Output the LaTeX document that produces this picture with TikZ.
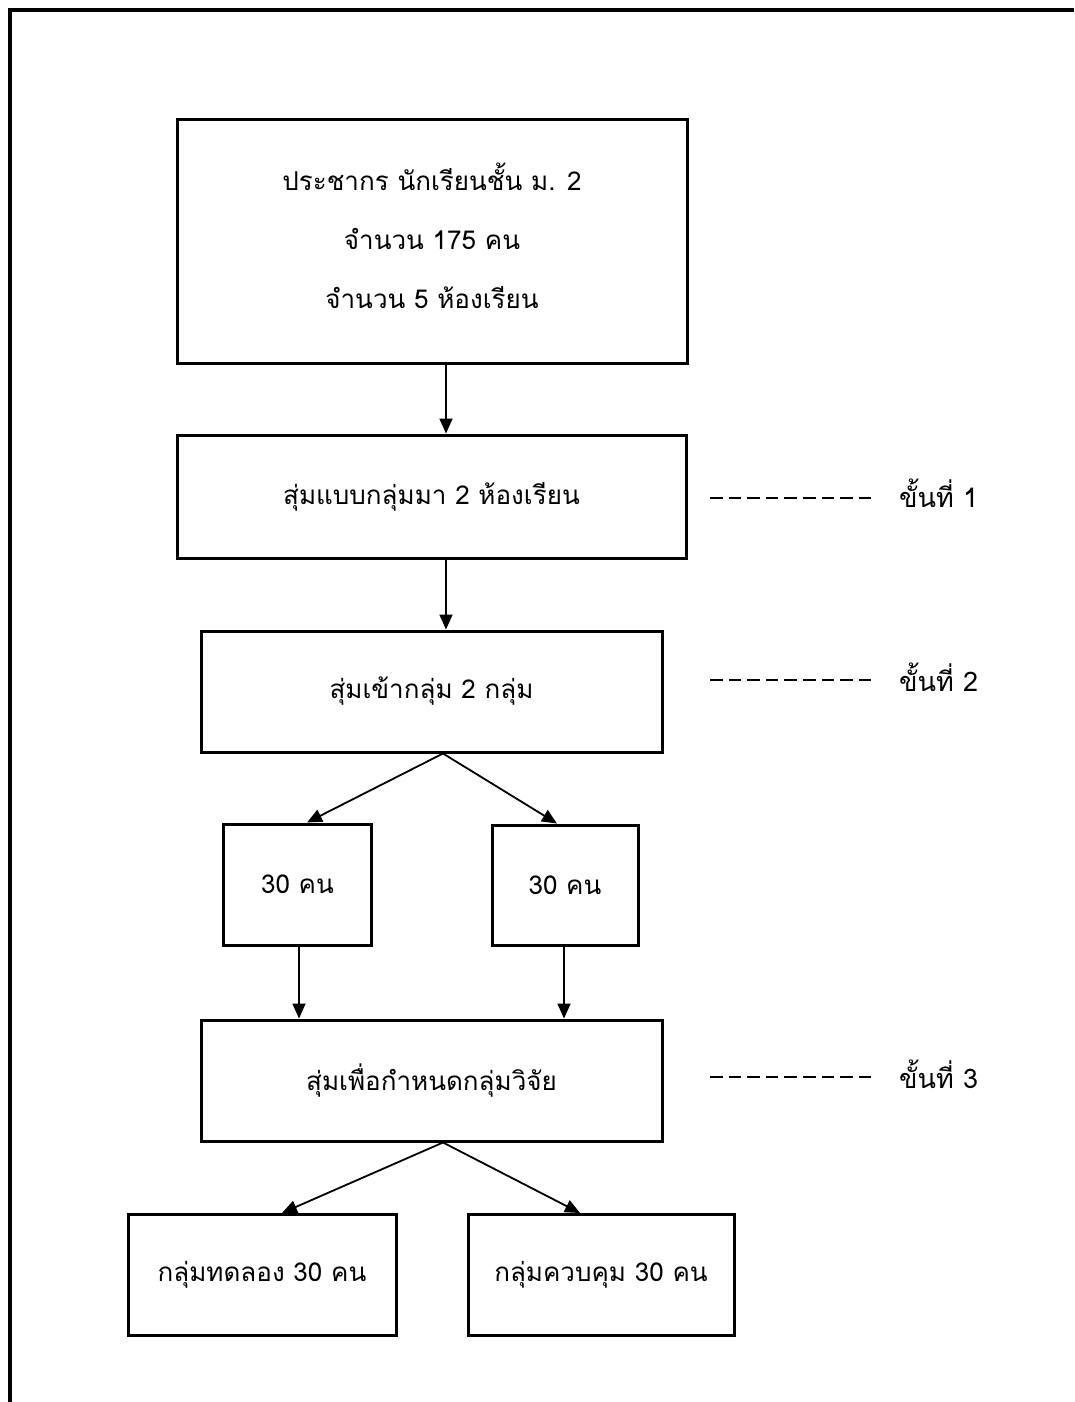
\documentclass[tikz,border=0pt]{standalone}
\usepackage{fontspec}
\newfontfamily\thaifont[Script=Thai]{Loma}
\usetikzlibrary{arrows.meta,calc}
\tikzset{
  box/.style={draw, line width=3pt, rectangle, inner sep=0pt, align=center, font=\thaifont\fontsize{26}{59}\selectfont},
  boxtext/.style={inner sep=0pt, align=center, font=\thaifont\fontsize{26}{59}\selectfont},
  arr/.style={line width=1.8pt, -{Triangle[length=15pt,width=13pt]}},
  dash line/.style={line width=2.8pt, dash pattern=on 12.5pt off 6.1pt},
  steplabel/.style={font=\thaifont\fontsize{27}{30}\selectfont, inner sep=0pt},
}
\begin{document}
\begin{tikzpicture}[x=1pt,y=-1pt]
\useasboundingbox (0,0) rectangle (1074,1402);
\fill[white] (0,0) rectangle (1074,1402);
% frame
\draw[line width=3.5pt] (10,1402) -- (10,10) -- (1074,10);
% boxes
\node[box, minimum width=510pt, minimum height=243pt] (b1) at (432,241.5) {};
\node[boxtext] (b1t) at (432,236) {ประชากร นักเรียนชั้น ม. 2\\จำนวน 175 คน\\จำนวน 5 ห้องเรียน};
\node[box, minimum width=509pt, minimum height=123pt] (b2) at (431.5,496.5) {สุ่มแบบกลุ่มมา 2 ห้องเรียน};
\node[box, minimum width=461pt, minimum height=121pt] (b3) at (431.5,691.5) {สุ่มเข้ากลุ่ม 2 กลุ่ม};
\node[box, minimum width=148pt, minimum height=121pt] (l30) at (297.5,884.5) {30 คน};
\node[box, minimum width=146pt, minimum height=120pt] (r30) at (565,885) {30 คน};
\node[box, minimum width=461pt, minimum height=121pt] (b4) at (431.5,1080.5) {สุ่มเพื่อกำหนดกลุ่มวิจัย};
\node[box, minimum width=268pt, minimum height=121pt] (bl) at (262,1275) {กลุ่มทดลอง 30 คน};
\node[box, minimum width=266pt, minimum height=121pt] (br) at (601,1275) {กลุ่มควบคุม 30 คน};
% helper coordinates
\coordinate (cx) at (446,0);
\coordinate (ax) at (443,0);
\coordinate (lt) at (307,0);
\coordinate (rt) at (557,0);
\coordinate (ld) at (299,0);
\coordinate (rd) at (564,0);
\coordinate (blt) at (282,0);
\coordinate (brt) at (580,0);
% connectors
\draw[arr] (b1.south -| cx) -- (b2.north -| cx);
\draw[arr] (b2.south -| cx) -- (b3.north -| cx);
\draw[arr] (b3.south -| ax) -- (l30.north -| lt);
\draw[arr] (b3.south -| ax) -- (r30.north -| rt);
\draw[arr] (l30.south -| ld) -- (b4.north -| ld);
\draw[arr] (r30.south -| rd) -- (b4.north -| rd);
\draw[arr] (b4.south -| ax) -- (bl.north -| blt);
\draw[arr] (b4.south -| ax) -- (br.north -| brt);
% step markers
\coordinate (d1a) at (710,498); \coordinate (d1b) at (872,498);
\coordinate (d2a) at (710,680); \coordinate (d2b) at (872,680);
\coordinate (d3a) at (710,1077); \coordinate (d3b) at (872,1077);
\draw[dash line] (d1a) -- (d1b);
\draw[dash line] (d2a) -- (d2b);
\draw[dash line] (d3a) -- (d3b);
\node[steplabel, anchor=west] (s1) at (899,493) {ขั้นที่ 1};
\node[steplabel, anchor=west] (s2) at (899,677) {ขั้นที่ 2};
\node[steplabel, anchor=west] (s3) at (899,1074) {ขั้นที่ 3};
\end{tikzpicture}
\end{document}
